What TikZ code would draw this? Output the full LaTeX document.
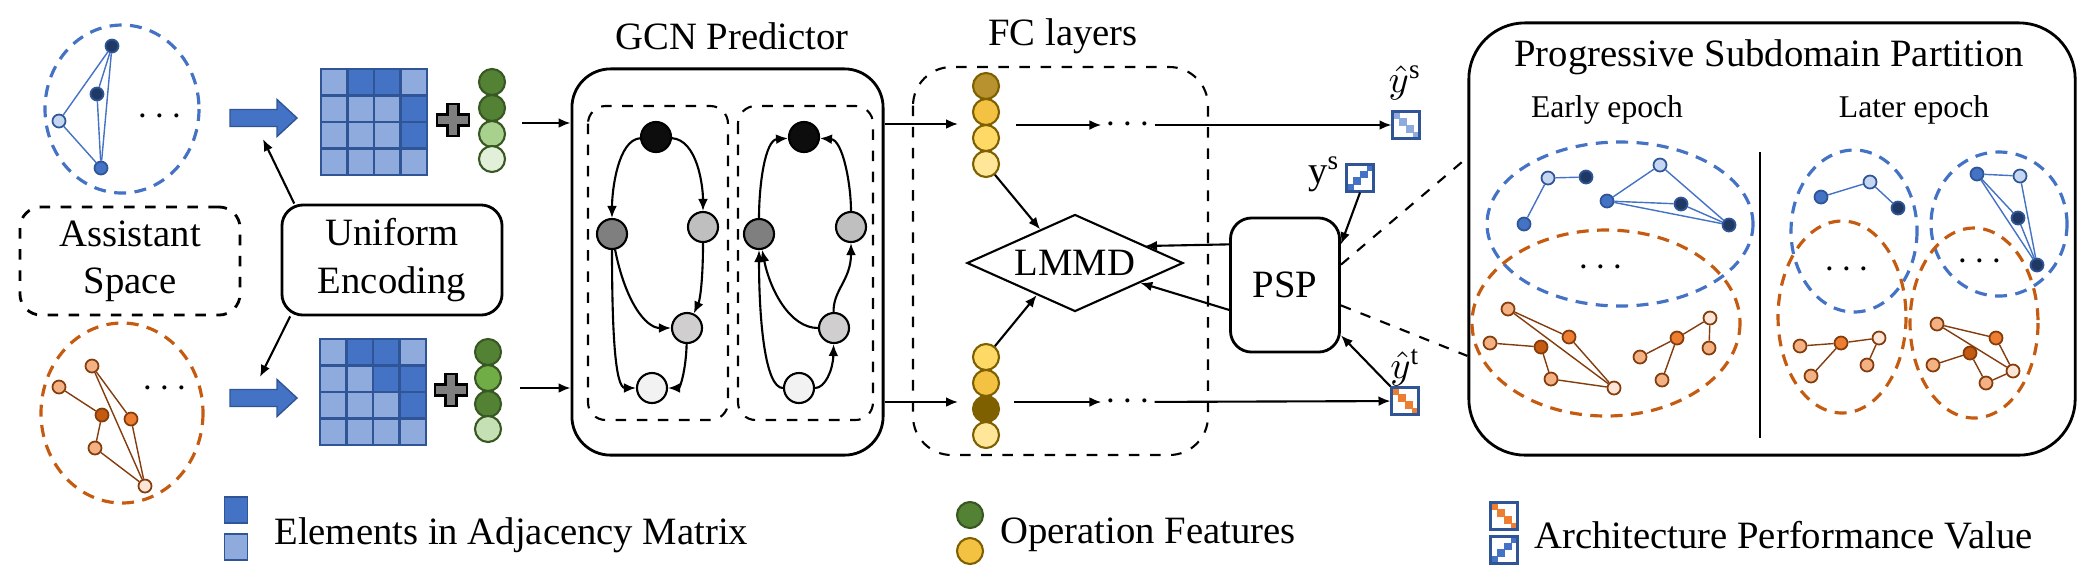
\documentclass[tikz,border=0pt]{standalone}
\usepackage{fontspec}
\setmainfont{Liberation Serif}
\usetikzlibrary{shapes.geometric,arrows.meta}

\definecolor{bM}{HTML}{4472C4}
\definecolor{bP}{HTML}{C5D7F0}
\definecolor{bD}{HTML}{203864}
\definecolor{bB}{HTML}{2F5597}
\definecolor{mD}{HTML}{4472C4}
\definecolor{mL}{HTML}{8FAADC}
\definecolor{oD}{HTML}{C55A11}
\definecolor{oM}{HTML}{ED7D31}
\definecolor{oL}{HTML}{F4B183}
\definecolor{oP}{HTML}{FBE5D6}
\definecolor{oB}{HTML}{843C0C}
\definecolor{gD}{HTML}{548235}
\definecolor{gM}{HTML}{70AD47}
\definecolor{gL}{HTML}{A9D18E}
\definecolor{gK}{HTML}{C5E0B4}
\definecolor{gP}{HTML}{E2F0D9}
\definecolor{gB}{HTML}{385723}
\definecolor{yD}{HTML}{7F6000}
\definecolor{yK}{HTML}{B8922F}
\definecolor{yM}{HTML}{F4C242}
\definecolor{yL}{HTML}{FFD966}
\definecolor{yP}{HTML}{FFE699}
\definecolor{kA}{HTML}{0D0D0D}
\definecolor{kB}{HTML}{7F7F7F}
\definecolor{kC}{HTML}{BFBFBF}
\definecolor{kD}{HTML}{D0CECE}
\definecolor{kE}{HTML}{F2F2F2}

\begin{document}
\begin{tikzpicture}[>={Latex[length=3.4pt,width=2.8pt]}, x=0.01cm, y=-0.01cm, font=\fontsize{11}{13.4}\selectfont,
  bnd/.style={circle, draw=bB, line width=0.5pt, inner sep=0, minimum size=0.13cm},
  ond/.style={circle, draw=oB, line width=0.5pt, inner sep=0, minimum size=0.13cm},
  bl/.style={bM, line width=0.4pt},
  ol/.style={oB, line width=0.4pt},
  bring/.style={bM, dash pattern=on 3.4pt off 2.4pt, line width=0.9pt},
  oring/.style={oD, dash pattern=on 3.4pt off 2.4pt, line width=0.9pt},
  gn/.style={circle, draw=black, line width=0.6pt, inner sep=0, minimum size=0.3cm},
  fn/.style={circle, draw=gB, line width=0.6pt, inner sep=0, minimum size=0.26cm},
  yn/.style={circle, draw=yD, line width=0.6pt, inner sep=0, minimum size=0.26cm},
  perf/.style={draw=bB, line width=0.6pt, fill=white, inner sep=0, minimum size=0.27cm},
  pdn/.style={perf, path picture={\foreach \k in {0,...,3}
    \fill[#1] ([shift={({-13.5+6.75*\k},{-13.5+6.75*\k})}]path picture bounding box.center) rectangle ++(7.5,7.5);}},
  pup/.style={perf, path picture={\foreach \k in {0,...,3}
    \fill[#1] ([shift={({-13.5+6.75*\k},{13.5-6.75*\k})}]path picture bounding box.center) rectangle ++(7.5,-7.5);}},
  fatarr/.style={fill=bM, draw=bB, line width=0.4pt},
  arr/.style={->, semithick},
  dots/.style={inner sep=1pt},
  small/.style={font=\fontsize{9}{11}\selectfont}]

\useasboundingbox (0,0) rectangle (2098,584);

% Two spaces on the left
\draw[bring] (122,109) ellipse [x radius=77, y radius=84];
\foreach \n/\p/\c in {ta/{112,46}/bD, tb/{97,94}/bD, tc/{59,121}/bP, td/{101,168}/bM}
  \node[bnd, fill=\c] (\n) at (\p) {};
\foreach \a/\b in {tc/ta, tc/td, ta/tb, tb/td, ta/td}
  \draw[bl] (\a) -- (\b);
\node[dots] (tdots) at (160,117) {$\cdots$};

\draw[oring] (122,413) ellipse [x radius=81, y radius=90];
\foreach \n/\p/\c in {la/{92,366}/oL, lb/{59,387}/oL, lc/{102,415}/oD, ld/{131,419}/oM, le/{95,448}/oL, lf/{145,486}/oP}
  \node[ond, fill=\c] (\n) at (\p) {};
\foreach \a/\b in {lb/lc, la/ld, la/lf, ld/lf, lc/le, le/lf}
  \draw[ol] (\a) -- (\b);
\node[dots] (ldots) at (165,389) {$\cdots$};

\node[draw, dashed, line width=0.8pt, rounded corners=6pt, minimum width=2.2cm, minimum height=1.08cm,
  align=center] (as) at (130,261) {Assistant\\Space};

% Uniform encoding
\foreach \yy in {118,398}
  \draw[fatarr] (230,{\yy-8.5}) -- (277,{\yy-8.5}) -- (277,{\yy-18.5}) -- (297,\yy)
    -- (277,{\yy+18.5}) -- (277,{\yy+8.5}) -- (230,{\yy+8.5}) -- cycle;
\node[draw, line width=0.8pt, rounded corners=6pt, minimum width=2.2cm, minimum height=1.1cm,
  align=center] (ue) at (392,260) {Uniform\\Encoding};
\coordinate (ua1) at (263,139);
\coordinate (ua2) at (260,377);
\draw[arr] (ue.150) -- (ua1);
\draw[arr] (ue.209) -- (ua2);

% Adjacency matrices
\foreach \r/\row in {0/{L,D,D,L},1/{L,L,L,D},2/{L,L,L,D},3/{L,L,L,L}}
  \foreach \v [count=\c from 0] in \row
    \draw[bB, line width=0.8pt, fill=m\v] ({321+26.5*\c},{69+26.5*\r}) rectangle ++(26.5,26.5);
\foreach \r/\row in {0/{L,D,D,L},1/{L,L,D,D},2/{L,L,L,D},3/{L,L,L,L}}
  \foreach \v [count=\c from 0] in \row
    \draw[bB, line width=0.8pt, fill=m\v] ({320+26.5*\c},{339+26.5*\r}) rectangle ++(26.5,26.5);

% Plus signs
\foreach \xx/\yy in {453/120, 451/390}
  \draw[fill=kB, line width=0.8pt] ({\xx-5.5},{\yy-16}) -- ++(11,0) -- ++(0,10.5) -- ++(10.5,0)
    -- ++(0,11) -- ++(-10.5,0) -- ++(0,10.5) -- ++(-11,0) -- ++(0,-10.5) -- ++(-10.5,0)
    -- ++(0,-11) -- ++(10.5,0) -- cycle;

% Operation features
\foreach \n/\yy/\c in {ga1/82/gD, ga2/108/gD, ga3/134/gL, ga4/159/gP}
  \node[fn, fill=\c] (\n) at (492,\yy) {};
\foreach \n/\yy/\c in {gb1/352/gD, gb2/378/gM, gb3/404/gD, gb4/429/gK}
  \node[fn, fill=\c] (\n) at (488,\yy) {};

% GCN predictor
\node[draw, line width=0.8pt, rounded corners=11pt, minimum width=3.11cm, minimum height=3.86cm] (gcn) at (727.5,262) {};
\node (gcnlab) at (732,36) {GCN Predictor};
\draw[dashed, line width=0.6pt, rounded corners=5pt] (588,106) rectangle (728,420);
\draw[dashed, line width=0.6pt, rounded corners=5pt] (738,106) rectangle (873,420);
\coordinate (gin1) at (522,123);
\coordinate (gin2) at (520,388);
\draw[arr] (gin1) -- (gin1 -| gcn.west);
\draw[arr] (gin2) -- (gin2 -| gcn.west);

\node[gn, fill=kA] (p1) at (656,137) {};
\node[gn, fill=kB] (q1) at (612,234) {};
\node[gn, fill=kC] (r1) at (703,227) {};
\node[gn, fill=kD] (m1) at (687,328) {};
\node[gn, fill=kE] (s1) at (652,388) {};
\draw[arr] (p1) .. controls (618,140) and (612,190) .. (q1);
\draw[arr] (p1) .. controls (697,140) and (703,185) .. (r1);
\draw[arr] (q1) .. controls (625,300) and (645,328) .. (m1);
\draw[arr] (q1) .. controls (612,330) and (615,388) .. (s1);
\draw[arr] (r1) .. controls (703,280) and (700,300) .. (m1);
\draw[arr] (m1) .. controls (686,370) and (680,388) .. (s1);

\node[gn, fill=kA] (p2) at (804,137) {};
\node[gn, fill=kB] (q2) at (759,234) {};
\node[gn, fill=kC] (r2) at (851,227) {};
\node[gn, fill=kD] (m2) at (834,328) {};
\node[gn, fill=kE] (s2) at (799,388) {};
\draw[arr] (q2) .. controls (759,185) and (765,140) .. (p2);
\draw[arr] (r2) .. controls (851,185) and (843,140) .. (p2);
\draw[arr] (s2) .. controls (765,388) and (759,320) .. (q2);
\draw[arr] (m2) .. controls (790,328) and (770,290) .. (q2);
\draw[arr] (m2) .. controls (833,290) and (851,280) .. (r2);
\draw[arr] (s2) .. controls (825,388) and (833,370) .. (m2);

% FC layers
\draw[dashed, line width=0.6pt, rounded corners=11pt] (913,67) rectangle (1208,455);
\node (fclab) at (1063,36) {FC layers};
\foreach \n/\yy/\c in {fa1/86/yK, fa2/112/yM, fa3/138/yL, fa4/164/yP, fb1/357/yL, fb2/383/yM, fb3/409/yD, fb4/435/yP}
  \node[yn, fill=\c] (\n) at (986,\yy) {};
\coordinate (fin1) at (958,124);
\coordinate (fin2) at (958,402);
\draw[arr] (gcn.east |- fin1) -- (fin1);
\draw[arr] (gcn.east |- fin2) -- (fin2);
\coordinate (fout1) at (1016,125);
\coordinate (fout2) at (1014,402);
\node[dots] (dt1) at (1128,125) {$\cdots$};
\node[dots] (dt2) at (1128,402) {$\cdots$};
\draw[arr] (fout1) -- (dt1);
\draw[arr] (fout2) -- (dt2);

\node[draw, diamond, line width=0.6pt, aspect=2.2, inner sep=0, minimum width=2.16cm, minimum height=0.97cm] (lmmd) at (1075,263) {LMMD};
\draw[arr] (fa4) -- (lmmd.136);
\draw[arr] (fb1) -- (lmmd.220);

% Performance values
\node[pdn=mL] (yhs) at (1406,125) {};
\node[pdn=oM] (yht) at (1405,401) {};
\node[pup=bM] (ys) at (1360,178) {};
\node (yhslab) at (1405,83) {$\hat{y}^{\mathrm{s}}$};
\node (yhtlab) at (1405,368) {$\hat{y}^{\mathrm{t}}$};
\node (yslab) at (1324,174) {y\textsuperscript{s}};
\draw[arr] (dt1) -- (yhs);
\draw[arr] (dt2) -- (yht);

% PSP
\node[draw, line width=0.8pt, rounded corners=6pt, minimum width=1.09cm, minimum height=1.34cm] (psp) at (1285,285) {PSP};
\coordinate (lm1) at (1145,246);
\draw[arr] (psp.144) -- (lm1);
\draw[arr] (psp.204) -- (lmmd);
\draw[arr] (ys.south) -- (psp.36);
\draw[arr] (yht.north west) -- (psp.-42);

% Progressive subdomain partition
\node[draw, line width=0.8pt, rounded corners=16pt, minimum width=6.06cm, minimum height=4.32cm] (psb) at (1772,239) {};
\node (psblab) at (1769,57) {Progressive Subdomain Partition};
\node[small] (early) at (1607,110) {Early epoch};
\node[small] (later) at (1914,110) {Later epoch};
\draw[line width=0.4pt] (1760,152) -- (1760,438);
\draw[dashed, semithick] (psp.20) -- (psb.165);
\draw[dashed, semithick] (psp.-20) -- (psb.201);

\draw[bring] (1620,224) ellipse [x radius=133, y radius=82];
\draw[oring] (1606,323) ellipse [x radius=134, y radius=93];
\draw[bring] (1854,231) ellipse [x radius=63, y radius=81];
\draw[bring] (1999,224) ellipse [x radius=68, y radius=72];
\draw[oring] (1842,317) ellipse [x radius=64, y radius=96];
\draw[oring] (1974,323) ellipse [x radius=64, y radius=95];

\foreach \n/\p/\c in {e1/{1524,224}/bM, e2/{1548,178}/bP, e3/{1586,177}/bD, e4/{1660,165}/bP,
    e5/{1607,201}/bM, e6/{1681,204}/bD, e7/{1729,225}/bD,
    h1/{1821,197}/bM, h2/{1870,182}/bP, h3/{1898,208}/bD,
    k1/{1977,174}/bM, k2/{2020,176}/bP, k3/{2018,218}/bD, k4/{2037,265}/bD}
  \node[bnd, fill=\c] (\n) at (\p) {};
\foreach \a/\b in {e1/e2, e2/e3, e4/e5, e4/e7, e5/e6, e5/e7, e6/e7, h1/h2, h2/h3, k1/k2, k1/k3, k1/k4, k2/k4, k3/k4}
  \draw[bl] (\a) -- (\b);

\foreach \n/\p/\c in {u1/{1508,309}/oL, u2/{1490,343}/oL, u3/{1541,347}/oD, u4/{1569,337}/oM,
    u5/{1551,379}/oL, u6/{1614,388}/oP, v1/{1710,318}/oP, v2/{1677,338}/oM, v3/{1709,348}/oL,
    v4/{1640,357}/oL, v5/{1662,380}/oL,
    w1/{1800,346}/oL, w2/{1841,343}/oM, w3/{1879,338}/oP, w4/{1811,376}/oL, w5/{1867,365}/oL,
    z1/{1937,324}/oL, z2/{1996,338}/oM, z3/{1970,353}/oD, z4/{1933,365}/oL, z5/{1986,383}/oL, z6/{2013,371}/oP}
  \node[ond, fill=\c] (\n) at (\p) {};
\foreach \a/\b in {u2/u3, u1/u4, u1/u6, u4/u6, u3/u5, u5/u6, v1/v2, v1/v3, v2/v4, v2/v5,
    w1/w2, w2/w3, w2/w4, w3/w5, z4/z3, z1/z2, z1/z6, z2/z6, z3/z5, z5/z6}
  \draw[ol] (\a) -- (\b);
\node[dots] (edots) at (1601,268) {$\cdots$};
\node[dots] (hdots) at (1847,270) {$\cdots$};
\node[dots] (kdots) at (1980,262) {$\cdots$};

% Legend
\node[draw=bB, fill=mD, inner sep=0, minimum width=0.23cm, minimum height=0.26cm] (lg1) at (236,510) {};
\node[draw=bB, fill=mL, inner sep=0, minimum width=0.23cm, minimum height=0.26cm] (lg2) at (236,547) {};
\node[anchor=west] (lgt1) at (262,535) {Elements in Adjacency Matrix};
\node[fn, fill=gD] (lg3) at (970,515) {};
\node[yn, fill=yM] (lg4) at (970,551) {};
\node[anchor=west] (lgt2) at (988,535) {Operation Features};
\node[pdn=oM] (lg5) at (1504,516) {};
\node[pup=bM] (lg6) at (1504,550) {};
\node[anchor=west] (lgt3) at (1522,535) {Architecture Performance Value};
\end{tikzpicture}
\end{document}
